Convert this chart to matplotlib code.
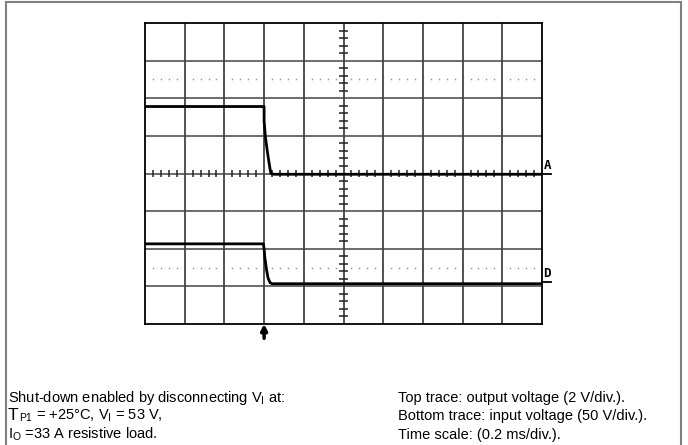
import numpy as np
import matplotlib
matplotlib.use("Agg")
import matplotlib.pyplot as plt
from matplotlib.patches import Rectangle

plt.rcParams['font.family'] = ['Liberation Sans', 'DejaVu Sans']
plt.rcParams['mathtext.fontset'] = 'custom'
plt.rcParams['mathtext.rm'] = 'Liberation Sans'
plt.rcParams['mathtext.it'] = 'Liberation Sans'

# scope traces, in divisions (x: 0.2 ms/div, y: centred screen)
top_t = [0, 2.98, 3.0, 3.0, 3.03, 3.08, 3.13, 3.17, 3.25, 10]
top_v = [1.78, 1.78, 1.78, 1.40, 1.0, 0.6, 0.25, 0.0, -0.02, -0.02]
bot_t = [0, 2.98, 3.0, 3.02, 3.06, 3.10, 3.15, 3.2, 10]
bot_v = [-1.87, -1.87, -2.0, -2.25, -2.55, -2.78, -2.9, -2.93, -2.93]
ref_a = 0.0
ref_d = -2.88
trigger_t = 3.0

left_text = [r'Shut-down enabled by disconnecting V$_\mathrm{I}$ at:',
             r'$_\mathrm{P1}$ = +25°C, V$_\mathrm{I}$ = 53 V,',
             r'I$_\mathrm{O}$ =33 A resistive load.']
right_text = ['Top trace: output voltage (2 V/div.).',
              'Bottom trace: input voltage (50 V/div.).',
              'Time scale: (0.2 ms/div.).']

W, H = 688, 445
fig = plt.figure(figsize=(W / 100, H / 100), dpi=100)

# outer grey frame
fig.patches.append(Rectangle((6 / W, -0.05), 675 / W, 1.05 - 2.5 / H,
                             transform=fig.transFigure, fill=False,
                             edgecolor='#808080', lw=1.5))

ax = fig.add_axes([145 / W, 1 - 324 / H, 397 / W, 301 / H])
ax.set_xlim(0, 10)
ax.set_ylim(-4, 4)
ax.set_xticks([])
ax.set_yticks([])
for s in ax.spines.values():
    s.set_linewidth(1.3)
    s.set_color('black')

# graticule
for x in range(1, 10):
    ax.axvline(x, color='#222222', lw=1.1)
for y in range(-3, 4):
    ax.axhline(y, color='#444444', lw=1.1)

minor = np.array([k + f for k in range(10) for f in (0.2, 0.4, 0.6, 0.8)])
minor_y = np.array([k + f for k in range(-4, 4) for f in (0.2, 0.4, 0.6, 0.8)])
# dotted rows
for yy in (2.5, -2.5):
    ax.plot(minor, np.full_like(minor, yy), ls='none', marker='s',
            ms=1.1, mew=0, color='#999999')
# centre cross ticks
ax.vlines(minor, -0.08, 0.08, color='#222222', lw=1.1)
ax.hlines(minor_y, 4.88, 5.12, color='#222222', lw=1.1)

# traces
ax.plot(top_t, top_v, color='black', lw=2.0, solid_joinstyle='round')
ax.plot(bot_t, bot_v, color='black', lw=2.0, solid_joinstyle='round')

# channel markers
for lvl, lab in ((ref_a, 'A'), (ref_d, 'D')):
    ax.plot([10, 10.22], [lvl, lvl], color='black', lw=1.3, clip_on=False)
    ax.text(10.04, lvl + 0.05, lab, fontsize=9, fontweight='bold',
            family='DejaVu Sans Mono', ha='left', va='bottom')

# trigger arrow
ax.annotate('', xy=(trigger_t, -4.0), xytext=(trigger_t, -4.38),
            arrowprops=dict(arrowstyle='-|>,head_width=0.18,head_length=0.35',
                            lw=2.5, color='black', shrinkA=0, shrinkB=0),
            annotation_clip=False)

fs = 10.5
base = [402, 420, 439]
for i, s in enumerate(left_text):
    if i == 1:
        t_big = fig.text(8 / W, 1 - base[i] / H, 'T', fontsize=12.5,
                         va='baseline', ha='left')
        fig.canvas.draw()
        bb = t_big.get_window_extent()
        fig.text(bb.x1 / W, 1 - base[i] / H, s, fontsize=fs,
                 va='baseline', ha='left')
    else:
        fig.text(8 / W, 1 - base[i] / H, s, fontsize=fs, va='baseline', ha='left')
for i, s in enumerate(right_text):
    fig.text(398 / W, 1 - base[i] / H, s, fontsize=fs, va='baseline', ha='left')

fig.savefig('out.png', dpi=100, facecolor='white')
